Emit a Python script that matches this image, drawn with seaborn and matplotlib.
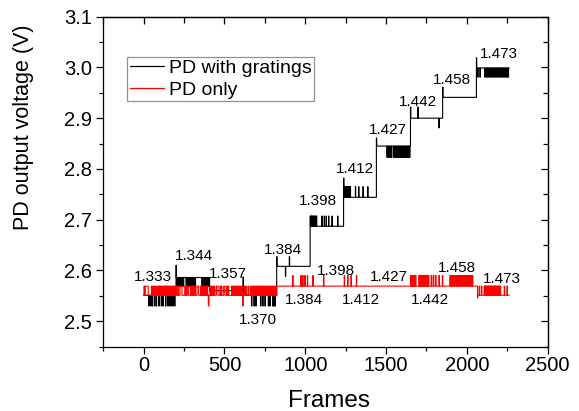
import numpy as np
import pandas as pd
import seaborn as sns
import matplotlib.pyplot as plt
from matplotlib.ticker import MultipleLocator

n_frames = 2263

# PD with gratings: step levels (start frame, voltage)
grat_starts = [0, 200, 408, 615, 823, 1030, 1237, 1440, 1651, 1850, 2059]
grat_levels = [2.551, 2.586, 2.560, 2.551, 2.608, 2.687, 2.744, 2.845, 2.900, 2.941, 2.999]

# single excursions: start frame, length in frames, voltage
grat_jumps = [
    (200, 2, 2.610), (615, 2, 2.587), (823, 2, 2.627), (877, 2, 2.588),
    (901, 2, 2.627), (1030, 2, 2.707), (1237, 2, 2.782), (1440, 2, 2.861),
    (1651, 2, 2.922), (1697, 2, 2.922), (1827, 2, 2.881), (1850, 2, 2.961),
    (2059, 2, 3.019),
]

# noisy stretches: voltage reached, length, start frames
grat_noise = [
    (2.530, 3, [31, 42, 52, 66, 77, 93, 108, 118, 135, 149, 160, 170, 180, 191]),
    (2.569, 3, [205, 212, 219, 226, 231, 238, 245, 262, 270, 277, 284, 290, 297,
                304, 311, 318, 360, 367, 374, 381, 388, 395, 402]),
    (2.530, 3, [667, 682, 694, 723, 736, 750, 771, 781, 798, 805, 812]),
    (2.707, 2, [1033, 1038, 1043, 1048, 1053, 1058, 1064, 1069,
                1102, 1117, 1129, 1144, 1165, 1200]),
    (2.765, 2, [1241, 1246, 1251, 1256, 1262, 1267, 1273, 1278,
                1310, 1330, 1357, 1386]),
    (2.823, 3, [1505, 1512, 1519, 1527, 1533, 1546, 1553, 1560, 1567, 1574, 1580,
                1587, 1594, 1601, 1608, 1614, 1620, 1627, 1633, 1639, 1645]),
    (2.981, 4, [2066, 2080, 2110, 2119, 2128, 2137, 2146, 2155, 2164, 2173, 2182,
                2191, 2200, 2209, 2218, 2227, 2236, 2245, 2254]),
]

# PD only
pd_starts = [0, 823, 2066]
pd_levels = [2.551, 2.569, 2.551]

pd_jumps = [
    (10, 18, 2.569), (225, 12, 2.569), (270, 8, 2.569), (330, 10, 2.569),
    (450, 10, 2.569), (495, 8, 2.569), (645, 6, 2.569),
    (400, 4, 2.530), (612, 4, 2.530), (2066, 2, 2.546),
]

pd_noise = [
    (2.569, 3, [2, 48, 56, 64, 71, 82, 88, 97, 104, 111, 121, 128, 136, 143,
                154, 160, 169, 177, 187, 193, 202, 213, 255, 261,
                290, 299, 306, 317, 352, 361, 368, 378, 385, 393, 410,
                419, 428, 437, 472, 481, 514, 523, 545, 553, 561,
                571, 580, 589, 597, 606, 622, 631, 661, 669,
                679, 687, 696, 705, 713, 722, 731, 739, 748, 757,
                765, 774, 783, 791, 800, 809, 816]),
    (2.590, 2, [922, 972, 984, 997, 1013, 1047, 1113, 1241, 1262, 1283, 1316]),
    (2.590, 3, [1652, 1657, 1662, 1667, 1672, 1677, 1682, 1703, 1708, 1714, 1719,
                1724, 1730, 1735, 1741, 1746, 1751, 1757, 1762, 1779, 1792, 1806,
                1827, 1848, 1895, 1905, 1914, 1923, 1932, 1941, 1950, 1960, 1969,
                1978, 1987, 1996, 2005, 2014, 2024, 2034]),
    (2.569, 3, [2076, 2090, 2107, 2112, 2118, 2123, 2129, 2134, 2140, 2145, 2151,
                2156, 2162, 2167, 2173, 2178, 2184, 2189, 2195, 2200, 2206, 2231, 2248]),
]

# refractive index labels
top_text = ["1.333", "1.344", "1.357", "1.370", "1.384", "1.398", "1.412",
            "1.427", "1.442", "1.458", "1.473"]
top_x = [60, 309, 521, 709, 864, 1081, 1310, 1510, 1698, 1910, 2200]
top_y = [2.579, 2.620, 2.585, 2.495, 2.633, 2.728, 2.792, 2.868, 2.924, 2.968, 3.018]

low_text = ["1.384", "1.398", "1.412", "1.427", "1.442", "1.458", "1.473"]
low_x = [991, 1190, 1344, 1519, 1769, 1936, 2216]
low_y = [2.533, 2.591, 2.533, 2.579, 2.533, 2.596, 2.576]


def trace(starts, levels, jumps, noise):
    v = np.empty(n_frames)
    ends = starts[1:] + [n_frames]
    for s, e, lv in zip(starts, ends, levels):
        v[s:e] = lv
    for s, ln, val in jumps:
        v[s:s + ln] = val
    for val, ln, frames in noise:
        for s in frames:
            v[s:s + ln] = val
    return pd.DataFrame({"frame": np.arange(n_frames), "volt": v})


grat = trace(grat_starts, grat_levels, grat_jumps, grat_noise)
only = trace(pd_starts, pd_levels, pd_jumps, pd_noise)

sns.set_theme(style="ticks")
plt.rcParams['font.family'] = ['Liberation Sans', 'DejaVu Sans']
plt.rcParams.update({"text.color": "black", "axes.labelcolor": "black",
                     "xtick.color": "black", "ytick.color": "black",
                     "axes.edgecolor": "black", "axes.linewidth": 0.9})

fig = plt.figure(figsize=(5.79, 4.11), dpi=100)
ax = fig.add_axes([0.1784, 0.1569, 0.7675, 0.8025])

sns.lineplot(data=grat, x="frame", y="volt", estimator=None, sort=False,
             drawstyle="steps-post", color="black", lw=0.8,
             label="PD with gratings", ax=ax)
sns.lineplot(data=only, x="frame", y="volt", estimator=None, sort=False,
             drawstyle="steps-post", color="red", lw=0.8,
             label="PD only", ax=ax)

for s, x, y in zip(top_text, top_x, top_y):
    ax.text(x, y, s, ha="center", va="baseline", fontsize=11, color="black")
for s, x, y in zip(low_text, low_x, low_y):
    ax.text(x, y, s, ha="center", va="baseline", fontsize=11, color="black")

ax.set_xlim(-250, 2500)
ax.set_ylim(2.45, 3.1)
ax.xaxis.set_major_locator(MultipleLocator(500))
ax.xaxis.set_minor_locator(MultipleLocator(250))
ax.yaxis.set_major_locator(MultipleLocator(0.1))
ax.yaxis.set_minor_locator(MultipleLocator(0.05))
ax.yaxis.set_major_formatter(plt.FormatStrFormatter("%.1f"))
ax.tick_params(which="major", direction="out", length=5, width=0.9,
               labelsize=14.5, color="black", labelcolor="black")
ax.tick_params(which="minor", direction="out", length=3, width=0.9, color="black")
ax.tick_params(axis="x", pad=2)
ax.tick_params(axis="y", pad=3)

top = ax.secondary_xaxis("top")
top.xaxis.set_major_locator(MultipleLocator(500))
top.xaxis.set_minor_locator(MultipleLocator(250))
top.tick_params(which="both", direction="in", length=5, width=0.9, labeltop=False,
                color="black")
top.tick_params(which="minor", length=4)
right = ax.secondary_yaxis("right")
right.yaxis.set_major_locator(MultipleLocator(0.1))
right.yaxis.set_minor_locator(MultipleLocator(0.05))
right.tick_params(which="both", direction="in", length=5, width=0.9, labelright=False,
                  color="black")
right.tick_params(which="minor", length=3.5)

for sp in ax.spines.values():
    sp.set_color("black")
    sp.set_linewidth(0.9)

ax.set_xlabel("Frames", fontsize=17.5, color="black")
ax.set_ylabel("PD output voltage (V)", fontsize=15.5, color="black")
ax.xaxis.set_label_coords(0.508, -0.132)
ax.yaxis.set_label_coords(-0.156, 0.664)

leg = ax.legend(loc="upper left", bbox_to_anchor=(0.054, 0.879), borderaxespad=0,
                fontsize=14, frameon=True, fancybox=False, handlelength=1.75,
                handletextpad=0.27, borderpad=0.12, labelspacing=0.25)
leg.get_frame().set_edgecolor("#777777")
leg.get_frame().set_linewidth(0.9)
for line in leg.get_lines():
    line.set_linewidth(0.9)
for t in leg.get_texts():
    t.set_color("black")

fig.savefig("out.png", dpi=100)
